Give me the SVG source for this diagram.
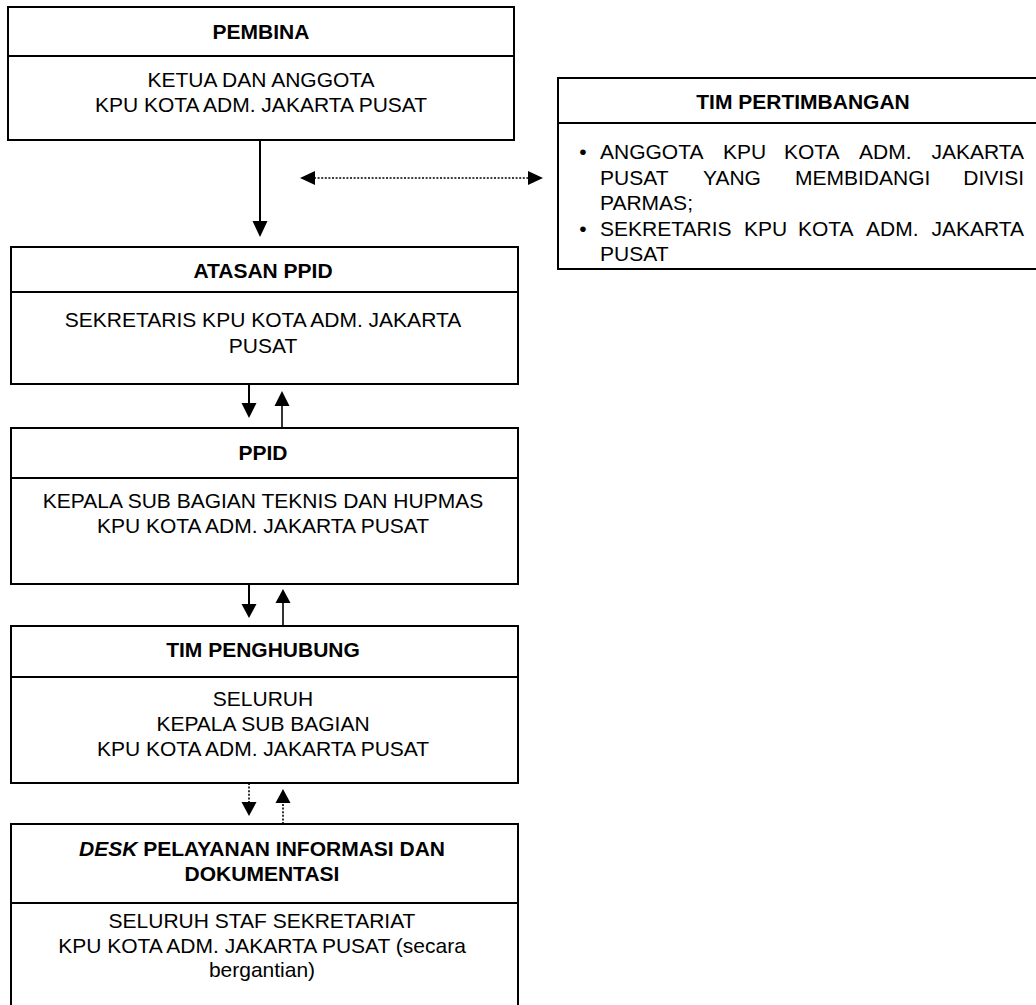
<svg xmlns="http://www.w3.org/2000/svg" width="1036" height="1005" viewBox="0 0 1036 1005">
<style>
.box{fill:#fff;stroke:#000;stroke-width:2}
.div{stroke:#000;stroke-width:2}
.t{font-family:"Liberation Sans",Arial,sans-serif;font-size:21px;fill:#000;text-anchor:middle}
.l{text-anchor:start}
.e{text-anchor:end}
.b{font-weight:bold}
.c{stroke:#000;stroke-width:2;fill:none}
.d{stroke:#000;stroke-width:1.6;fill:none;stroke-dasharray:2,1.6}
.h{fill:#000;stroke:none}
</style>
<rect width="1036" height="1005" fill="#fff"/>
<g id="pembina">
<rect class="box" x="8" y="7" width="506" height="133"/>
<line class="div" x1="8" y1="56" x2="514" y2="56"/>
<text class="t b" x="261" y="39">PEMBINA</text>
<text class="t" x="261" y="87">KETUA DAN ANGGOTA</text>
<text class="t" x="261" y="112">KPU KOTA ADM. JAKARTA PUSAT</text>
</g>
<g id="tim-pertimbangan">
<rect class="box" x="558" y="78" width="492" height="191"/>
<line class="div" x1="558" y1="123" x2="1050" y2="123"/>
<text class="t b" x="803" y="109">TIM PERTIMBANGAN</text>
<text class="t" x="583" y="159">•</text>
<text class="t l" y="159"><tspan x="600">ANGGOTA</tspan><tspan x="723">KPU</tspan><tspan x="784">KOTA</tspan><tspan x="859">ADM.</tspan></text>
<text class="t e" x="1024" y="159">JAKARTA</text>
<text class="t l" y="184.5"><tspan x="600">PUSAT</tspan><tspan x="703">YANG</tspan><tspan x="795">MEMBIDANGI</tspan></text>
<text class="t e" x="1024" y="184.5">DIVISI</text>
<text class="t l" x="600" y="210">PARMAS;</text>
<text class="t" x="583" y="235.5">•</text>
<text class="t l" y="235.5"><tspan x="600">SEKRETARIS</tspan><tspan x="744">KPU</tspan><tspan x="798">KOTA</tspan><tspan x="866">ADM.</tspan></text>
<text class="t e" x="1024" y="235.5">JAKARTA</text>
<text class="t l" x="600" y="261">PUSAT</text>
</g>
<g id="atasan-ppid">
<rect class="box" x="11" y="247" width="507" height="137"/>
<line class="div" x1="11" y1="292" x2="518" y2="292"/>
<text class="t b" x="263" y="278">ATASAN PPID</text>
<text class="t" x="263" y="327">SEKRETARIS KPU KOTA ADM. JAKARTA</text>
<text class="t" x="263" y="353">PUSAT</text>
</g>
<g id="ppid">
<rect class="box" x="11" y="428" width="507" height="156"/>
<line class="div" x1="11" y1="478" x2="518" y2="478"/>
<text class="t b" x="263" y="460">PPID</text>
<text class="t" x="263" y="508">KEPALA SUB BAGIAN TEKNIS DAN HUPMAS</text>
<text class="t" x="263" y="533">KPU KOTA ADM. JAKARTA PUSAT</text>
</g>
<g id="tim-penghubung">
<rect class="box" x="11" y="626" width="507" height="157"/>
<line class="div" x1="11" y1="677" x2="518" y2="677"/>
<text class="t b" x="263" y="657">TIM PENGHUBUNG</text>
<text class="t" x="263" y="706">SELURUH</text>
<text class="t" x="263" y="731">KEPALA SUB BAGIAN</text>
<text class="t" x="263" y="756">KPU KOTA ADM. JAKARTA PUSAT</text>
</g>
<g id="desk">
<rect class="box" x="11" y="824" width="507" height="200"/>
<line class="div" x1="11" y1="903" x2="518" y2="903"/>
<text class="t b" x="262" y="856"><tspan font-style="italic">DESK</tspan> PELAYANAN INFORMASI DAN</text>
<text class="t b" x="262" y="881">DOKUMENTASI</text>
<text class="t" x="262" y="928">SELURUH STAF SEKRETARIAT</text>
<text class="t" x="262" y="953">KPU KOTA ADM. JAKARTA PUSAT (secara</text>
<text class="t" x="262" y="977">bergantian)</text>
</g>
<g id="connectors">
<line class="c" x1="260" y1="140" x2="260" y2="222"/>
<polygon class="h" points="252.5,221 267.5,221 260,237"/>
<line class="d" x1="314" y1="178" x2="529" y2="178"/>
<polygon class="h" points="300,178 315,171 315,185"/>
<polygon class="h" points="543,178 528,171 528,185"/>
<line class="c" x1="249" y1="384" x2="249" y2="404"/>
<polygon class="h" points="241.5,403 256.5,403 249,418"/>
<line class="c" x1="282" y1="427" x2="282" y2="405" style="stroke-width:1.6"/>
<polygon class="h" points="274.5,406 289.5,406 282,391"/>
<line class="c" x1="249" y1="584" x2="249" y2="605"/>
<polygon class="h" points="241.5,604 256.5,604 249,618"/>
<line class="c" x1="283" y1="626" x2="283" y2="602" style="stroke-width:1.6"/>
<polygon class="h" points="275.5,603 290.5,603 283,589"/>
<line class="d" x1="249" y1="783" x2="249" y2="803"/>
<polygon class="h" points="241.5,802 256.5,802 249,816"/>
<line class="d" x1="283" y1="824" x2="283" y2="802"/>
<polygon class="h" points="275.5,803 290.5,803 283,789"/>
</g>
</svg>
